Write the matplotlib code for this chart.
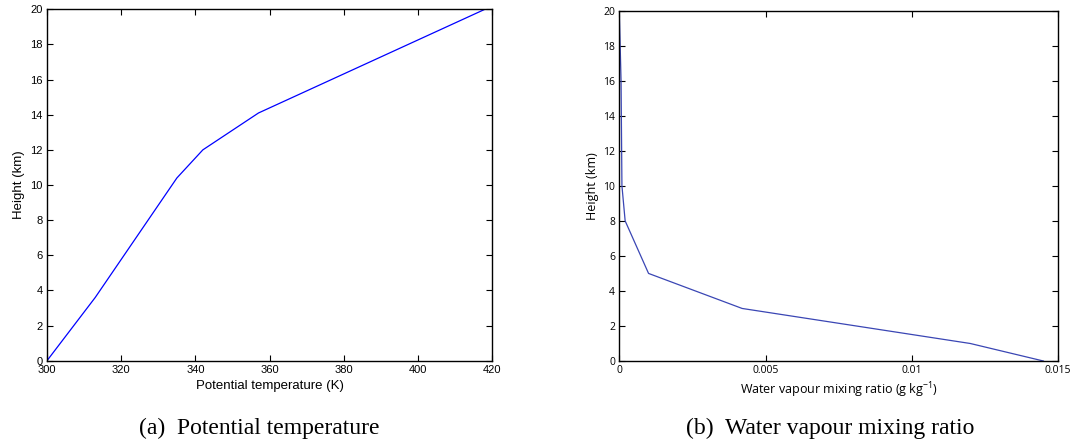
import matplotlib
matplotlib.use("Agg")
import matplotlib.pyplot as plt

# potential temperature profile
theta = [300, 313, 335, 342, 357, 418]
z_theta = [0, 3.6, 10.4, 12, 14.1, 20]

# water vapour mixing ratio profile
qv = [0.0145, 0.0120, 0.0042, 0.0010, 0.0002, 0.00009, 0.00006, 0.0]
z_qv = [0, 1, 3, 5, 8, 10, 16, 20]

W, H = 1091, 445
fig = plt.figure(figsize=(W / 100, H / 100), dpi=100)

def box(x0, y0, x1, y1):
	return [x0 / W, (H - y1) / H, (x1 - x0) / W, (y1 - y0) / H]

def matlab_axes(ax, fam, size):
	ax.tick_params(direction="in", top=True, right=True, length=4, width=0.8,
		labelsize=size, pad=3)
	for lab in ax.get_xticklabels() + ax.get_yticklabels():
		lab.set_family(fam)
	for s in ax.spines.values():
		s.set_linewidth(1.0)

# (a)
ax1 = fig.add_axes(box(47, 9.3, 492.3, 360.7))
ax1.plot(theta, z_theta, color="#0000ff", lw=0.9)
ax1.set_xlim(300, 420)
ax1.set_ylim(0, 20)
ax1.set_xticks(range(300, 421, 20))
ax1.set_yticks(range(0, 21, 2))
matlab_axes(ax1, "Liberation Sans", 8)
ax1.set_xlabel("Potential temperature (K)", family="Liberation Sans", fontsize=9.5, labelpad=4)
ax1.set_ylabel("Height (km)", family="Liberation Sans", fontsize=9.5, labelpad=4)

# (b)
ax2 = fig.add_axes(box(619.3, 10.7, 1058, 361))
ax2.plot(qv, z_qv, color="#3a46b4", lw=0.9)
ax2.set_xlim(0, 0.015)
ax2.set_ylim(0, 20)
ax2.set_xticks([0, 0.005, 0.01, 0.015])
ax2.set_xticklabels(["0", "0.005", "0.01", "0.015"])
ax2.set_yticks(range(0, 21, 2))
matlab_axes(ax2, "Open Sans", 7.5)
ax2.set_xlabel(r"Water vapour mixing ratio (g kg$^{\mathregular{-1}}$)", family="Open Sans",
	fontsize=9, labelpad=3)
ax2.set_ylabel("Height (km)", family="Open Sans", fontsize=9, labelpad=3)

# captions
fig.text(259 / W, 1 - 428 / H, "(a)  Potential temperature", family="Liberation Serif",
	fontsize=17, ha="center", va="center")
fig.text(830 / W, 1 - 428 / H, "(b)  Water vapour mixing ratio", family="Liberation Serif",
	fontsize=17, ha="center", va="center")

fig.savefig("out.png", dpi=100)
